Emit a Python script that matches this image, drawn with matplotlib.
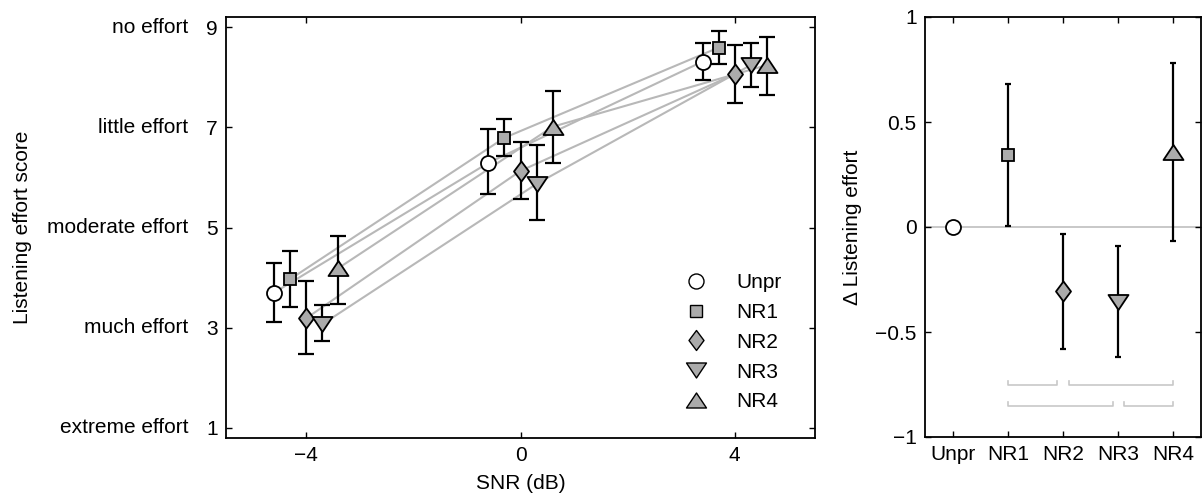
import matplotlib
matplotlib.use("Agg")
import matplotlib.pyplot as plt
from matplotlib.path import Path
from matplotlib.lines import Line2D
import numpy as np

plt.rcParams['font.family'] = ['Liberation Sans', 'DejaVu Sans']
plt.rcParams['font.size'] = 15
plt.rcParams['axes.unicode_minus'] = True

# ---------------- data ----------------
conditions = ["Unpr", "NR1", "NR2", "NR3", "NR4"]
snr_levels = [-4, 0, 4]
x_offsets = [-0.6, -0.3, 0.0, 0.3, 0.6]

# mean effort per condition at each SNR level (low, mid, high)
effort_unpr = [3.70, 6.29, 8.31]
effort_nr1 = [3.97, 6.79, 8.59]
effort_nr2 = [3.19, 6.13, 8.06]
effort_nr3 = [3.07, 5.87, 8.24]
effort_nr4 = [4.19, 7.01, 8.24]

lo_unpr = [3.12, 5.66, 7.94]
hi_unpr = [4.29, 6.96, 8.68]
lo_nr1 = [3.41, 6.42, 8.26]
hi_nr1 = [4.53, 7.17, 8.93]
lo_nr2 = [2.47, 5.57, 7.49]
hi_nr2 = [3.93, 6.71, 8.64]
lo_nr3 = [2.74, 5.14, 7.81]
hi_nr3 = [3.46, 6.64, 8.69]
lo_nr4 = [3.47, 6.29, 7.65]
hi_nr4 = [4.84, 7.73, 8.80]

# difference relative to Unpr
delta_effort = [0.0, 0.345, -0.305, -0.357, 0.357]
delta_lo = [0.0, 0.007, -0.58, -0.62, -0.067]
delta_hi = [0.0, 0.68, -0.032, -0.09, 0.78]

# significance brackets (pairs of condition index, y level)
bracket_pairs = [(2, 2.9), (3.1, 5), (2, 3.9), (4.1, 5)]
bracket_levels = [-0.75, -0.75, -0.85, -0.85]

effort_ticks = [1, 3, 5, 7, 9]
effort_names = ["extreme effort", "much effort", "moderate effort", "little effort", "no effort"]

# ---------------- markers ----------------
diamond = Path([(0, 1), (0.75, 0), (0, -1), (-0.75, 0), (0, 1)], closed=True)
tri_up = Path([(-1, -0.75), (1, -0.75), (0, 0.75), (-1, -0.75)], closed=True)
tri_dn = Path([(-1, 0.75), (1, 0.75), (0, -0.75), (-1, 0.75)], closed=True)

marker_styles = [
    dict(marker='o', ms=10.8, mfc='white'),
    dict(marker='s', ms=9.0, mfc='#ababab'),
    dict(marker=diamond, ms=14.4, mfc='#ababab'),
    dict(marker=tri_dn, ms=14.4, mfc='#ababab'),
    dict(marker=tri_up, ms=14.4, mfc='#ababab'),
]

means = [effort_unpr, effort_nr1, effort_nr2, effort_nr3, effort_nr4]
los = [lo_unpr, lo_nr1, lo_nr2, lo_nr3, lo_nr4]
his = [hi_unpr, hi_nr1, hi_nr2, hi_nr3, hi_nr4]

W, H = 1203, 495
fig = plt.figure(figsize=(W / 100, H / 100), dpi=100)
ax = fig.add_axes([226 / W, 1 - 438 / H, 589 / W, 421 / H])
ax2 = fig.add_axes([925 / W, 1 - 437 / H, 276 / W, 420 / H])

line_gray = '#b8b8b8'
# connecting lines
for i in range(5):
    xs = [s + x_offsets[i] for s in snr_levels]
    ax.plot(xs, means[i], color=line_gray, lw=1.5, zorder=1)

for i in range(5):
    xs = np.array(snr_levels) + x_offsets[i]
    m = np.array(means[i])
    yerr = [m - np.array(los[i]), np.array(his[i]) - m]
    ax.errorbar(xs, m, yerr=yerr, fmt='none', ecolor='black', elinewidth=1.6,
                capsize=5.5, capthick=1.6, zorder=2)
    ax.plot(xs, m, linestyle='none', mec='black', mew=1.3, zorder=3,
            **marker_styles[i])

ax.set_xlim(-5.5, 5.5)
ax.set_ylim(0.8, 9.2)
ax.set_xticks(snr_levels)
ax.set_xticklabels(["\u22124", "0", "4"])
ax.set_yticks(effort_ticks)
ax.tick_params(direction='in', top=True, right=True, length=4, width=1, pad=6)
for sp in ax.spines.values():
    sp.set_linewidth(1.3)
ax.set_xlabel("SNR (dB)")
ax.xaxis.set_label_coords(0.5, -0.085)
ax.xaxis.label.set_va('top')
ax.set_ylabel("Listening effort score")
ax.yaxis.set_label_coords(-0.33, 0.5)
for t, name in zip(effort_ticks, effort_names):
    ax.text(-0.0645, t, name, transform=ax.get_yaxis_transform(),
            ha='right', va='center')

handles = []
for i in range(5):
    st = dict(marker_styles[i])
    handles.append(Line2D([], [], linestyle='none', mec='black', mew=1.0, **st))
leg = ax.legend(handles, conditions, loc='upper left',
                bbox_to_anchor=((686 - 226) / 589, (438 - 273) / 421),
                frameon=False, borderpad=0, borderaxespad=0,
                handlelength=1.0, handletextpad=1.4, labelspacing=0.52)

# ---------------- right panel ----------------
xpos = np.arange(1, 6)
ax2.axhline(0, color='#c4c4c4', lw=1.3, zorder=0)
for i in range(5):
    if i == 0:
        ax2.plot(xpos[i], delta_effort[i], linestyle='none', mec='black', mew=1.3,
                 zorder=3, **marker_styles[i])
        continue
    yerr = [[delta_effort[i] - delta_lo[i]], [delta_hi[i] - delta_effort[i]]]
    ax2.errorbar([xpos[i]], [delta_effort[i]], yerr=yerr, fmt='none', ecolor='black',
                 elinewidth=1.6, capsize=2, capthick=1.6, zorder=2)
    ax2.plot(xpos[i], delta_effort[i], linestyle='none', mec='black', mew=1.3,
             zorder=3, **marker_styles[i])

tick_h = 0.015
for (a, b), yl in zip(bracket_pairs, bracket_levels):
    ax2.plot([a, a, b, b], [yl + tick_h, yl, yl, yl + tick_h], color='#c8c8c8', lw=1.2)

ax2.set_xlim(0.5, 5.5)
ax2.set_ylim(-1, 1)
ax2.set_xticks(xpos)
ax2.set_xticklabels(conditions)
ax2.set_yticks([-1, -0.5, 0, 0.5, 1])
ax2.set_yticklabels(["\u22121", "\u22120.5", "0", "0.5", "1"])
ax2.tick_params(direction='in', top=True, right=True, length=4, width=1, pad=6)
for sp in ax2.spines.values():
    sp.set_linewidth(1.3)
ax2.set_ylabel("\u0394 Listening effort")
ax2.yaxis.set_label_coords(-0.228, 0.5)

fig.savefig("out.png", dpi=100)
